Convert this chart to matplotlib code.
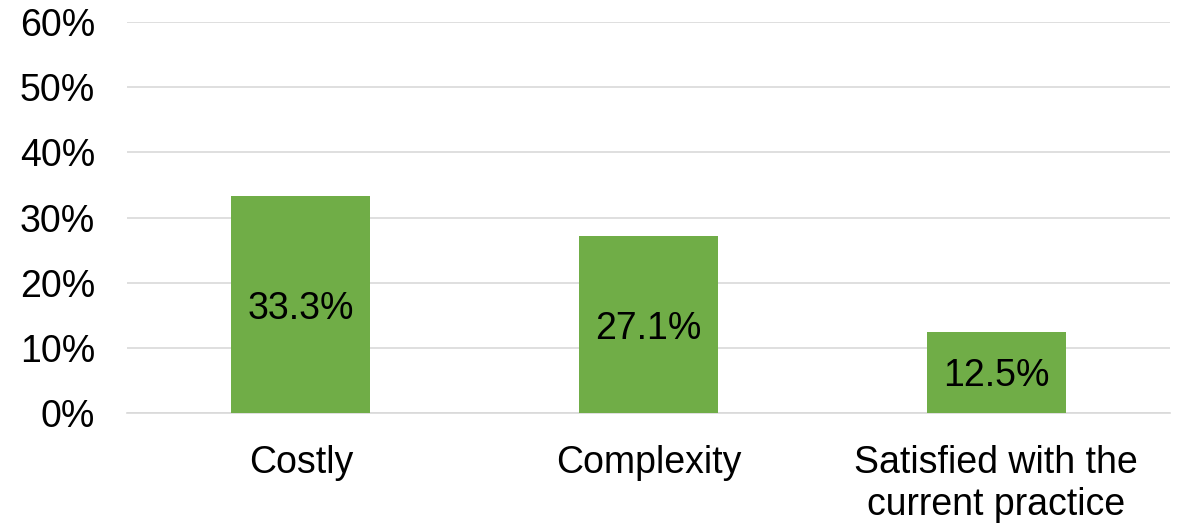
import matplotlib.pyplot as plt
from matplotlib.ticker import PercentFormatter

plt.rcParams['font.family'] = ['Liberation Sans', 'DejaVu Sans']

# Motivos para no adoptar la práctica (porcentaje de respuestas)
categorias = ['Costly', 'Complexity', 'Satisfied with the\ncurrent practice']
porcentajes = [33.3, 27.1, 12.5]

fig = plt.figure(figsize=(11.82, 5.24), dpi=100)
ax = fig.add_axes([0.1074, 0.2118, 0.8824, 0.7462])

x = list(range(len(categorias)))
ax.bar(x, porcentajes, width=0.4, color='#70AD47', zorder=3)
# Etiquetas de valor centradas dentro de cada barra
for xi, v in zip(x, porcentajes):
    ax.text(xi, v / 2, f'{v:.1f}%', ha='center', va='center_baseline',
            fontsize=27, color='#000000', zorder=4)

ax.set_xlim(-0.5, 2.5)
ax.set_ylim(0, 60)
ax.set_yticks(range(0, 61, 10))
ax.yaxis.set_major_formatter(PercentFormatter(decimals=0))
ax.set_xticks(x)
ax.set_xticklabels(categorias)
ax.tick_params(axis='both', length=0, labelsize=27, colors='#000000')
ax.tick_params(axis='y', pad=23)
ax.tick_params(axis='x', pad=23)

ax.grid(axis='y', color='#D9D9D9', linewidth=1.2, zorder=0)
for lado in ['top', 'right', 'left']:
    ax.spines[lado].set_visible(False)
ax.spines['bottom'].set_color('#D9D9D9')
ax.spines['bottom'].set_linewidth(1.2)

fig.savefig('out.png', dpi=100)
